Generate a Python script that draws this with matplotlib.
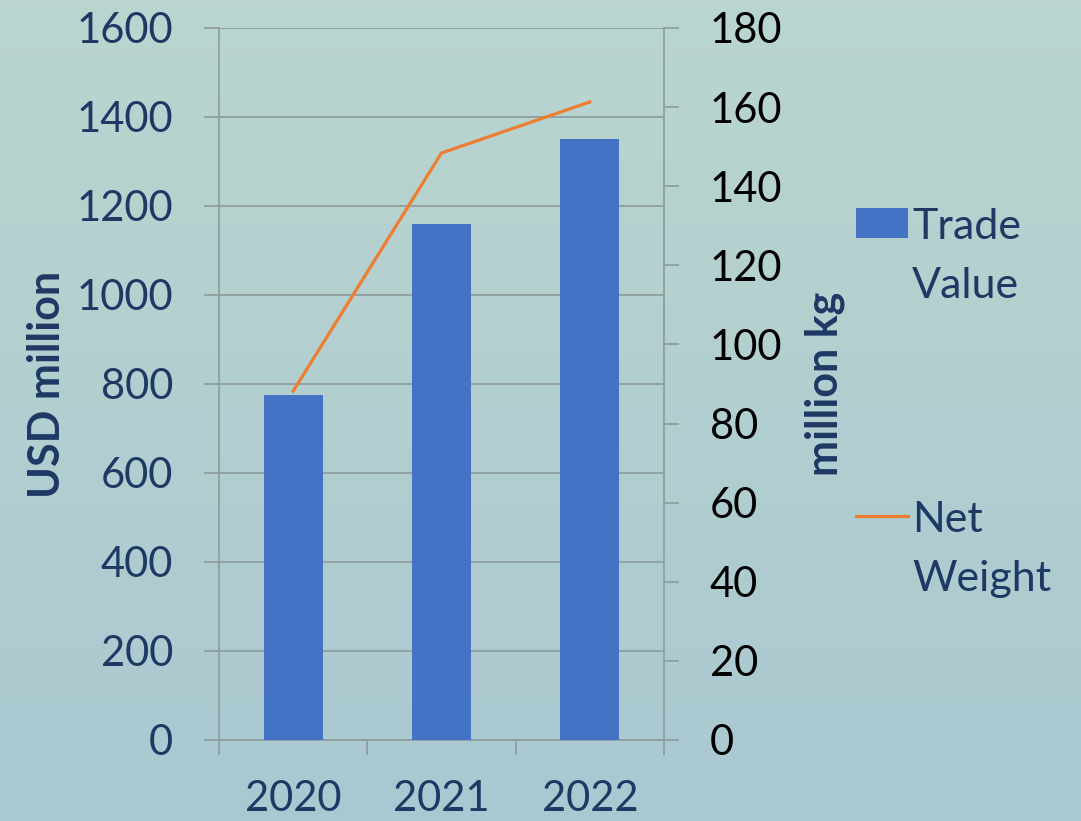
import numpy as np
import matplotlib
matplotlib.use('Agg')
import matplotlib.pyplot as plt
from matplotlib.patches import Patch
from matplotlib.lines import Line2D

years = ['2020', '2021', '2022']
trade_value = [775, 1160, 1350]      # USD million
net_weight = [88.2, 148.4, 161.3]    # million kg

navy = '#1F3864'
bar_color = '#4472C4'
line_color = '#ED7D31'
grid_color = '#8E9A9A'

plt.rcParams['font.family'] = ['Lato', 'DejaVu Sans']

fig = plt.figure(figsize=(10.81, 8.21), dpi=100)

# soft teal gradient background
bg = fig.add_axes([0, 0, 1, 1], zorder=-10)
top = np.array([0.730, 0.838, 0.812])
bot = np.array([0.665, 0.785, 0.820])
t = np.linspace(0, 1, 256)[:, None]
grad = top[None, :] * (1 - t) + bot[None, :] * t
bg.imshow(grad[:, None, :], aspect='auto', extent=[0, 1, 0, 1])
bg.axis('off')

ax = fig.add_axes([0.2026, 0.0987, 0.4116, 0.8672])
ax.set_facecolor('none')
x = np.arange(len(years))
ax.bar(x, trade_value, width=0.4, color=bar_color, zorder=3)
ax.set_xlim(-0.5, 2.5)
ax.set_ylim(0, 1600)
ax.set_yticks(range(0, 1601, 200))
ax.grid(axis='y', color=grid_color, linewidth=1.2, zorder=0)
ax.set_xticks(x)
ax.set_xticklabels(years)
ax.set_xticks([-0.5, 0.5, 1.5, 2.5], minor=True)
ax.tick_params(axis='x', which='major', length=0, pad=29, labelsize=30, labelcolor=navy)
ax.tick_params(axis='x', which='minor', length=11, width=1.2, color=grid_color, direction='out')
ax.tick_params(axis='y', length=11, width=1.2, color=grid_color, pad=22, labelsize=30, labelcolor=navy)
for s in ['top', 'right']:
    ax.spines[s].set_visible(False)
for s in ['left', 'bottom']:
    ax.spines[s].set_color(grid_color)
    ax.spines[s].set_linewidth(1.2)
ax.set_ylabel('USD million', fontsize=31, fontweight='bold', color=navy, labelpad=7)

ax2 = ax.twinx()
ax2.plot(x, net_weight, color=line_color, linewidth=2.3, zorder=4)
ax2.set_ylim(0, 180)
ax2.set_yticks(range(0, 181, 20))
ax2.tick_params(axis='y', length=11, width=1.2, color=grid_color, pad=22, labelsize=30, labelcolor='black')
for s in ['top', 'left', 'bottom']:
    ax2.spines[s].set_visible(False)
ax2.spines['right'].set_color(grid_color)
ax2.spines['right'].set_linewidth(1.2)
ax2.set_ylabel('million kg', fontsize=31, fontweight='bold', color=navy, labelpad=16)

handles = [Patch(facecolor=bar_color), Line2D([0], [0], color=line_color, linewidth=2.3)]
leg = fig.legend(handles, ['Trade\nValue', 'Net\nWeight'], loc='upper left',
                 bbox_to_anchor=(0.792, 0.747), frameon=False, fontsize=31,
                 borderpad=0, borderaxespad=0,
                 handlelength=1.2, handletextpad=0.1, labelspacing=4.55)
for txt in leg.get_texts():
    txt.set_color(navy)
    txt.set_linespacing(1.68)
# put each handle next to the first line of its label
for col in leg._legend_handle_box.get_children():
    for entry in col.get_children():
        entry.align = 'top'

fig.savefig('out.png', dpi=100)
